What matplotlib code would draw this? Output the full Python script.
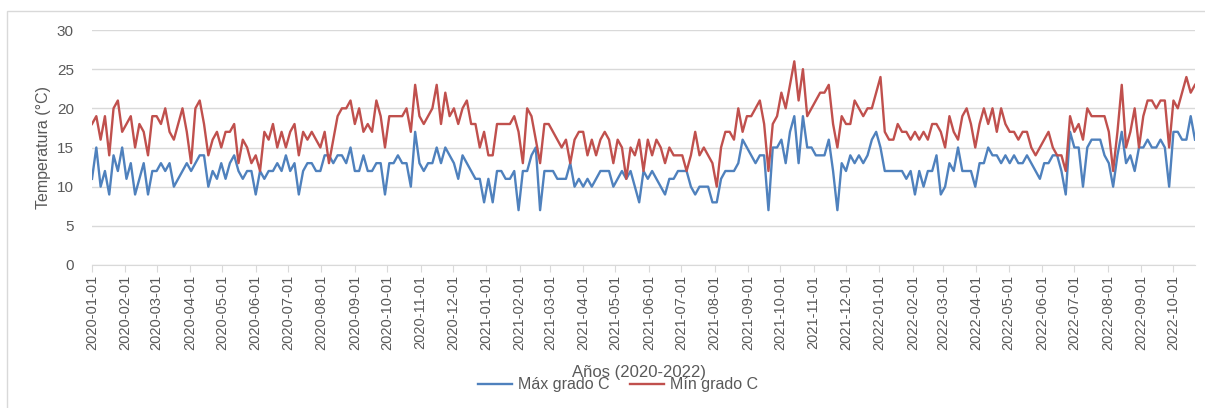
import numpy as np
import pandas as pd
import matplotlib
matplotlib.use("Agg")
import matplotlib.pyplot as plt
import matplotlib.dates as mdates
from matplotlib.patches import Rectangle

# values every 4 days starting 2020-01-01
start_date = "2020-01-01"
step = "4D"

max_temp = [  # blue line, "Máx grado C"
    11, 15, 10, 12, 9, 14, 12, 15, 11, 13, 9, 11, 13, 9, 12, 12, 13, 12, 13, 10,
    11, 12, 13, 12, 13, 14, 14, 10, 12, 11, 13, 11, 13, 14, 12, 11, 12, 12, 9, 12,
    11, 12, 12, 13, 12, 14, 12, 13, 9,
    12, 13, 13, 12, 12, 14, 14, 13, 14, 14, 13, 15, 12, 12, 14, 12,
    12, 13, 13, 9, 13, 13, 14, 13, 13, 10, 17, 13, 12, 13, 13, 15, 13, 15, 14, 13,
    11, 14, 13, 12, 11, 11, 8, 11, 8, 12, 12, 11, 11,
    12, 7, 12, 12, 14, 15, 7, 12, 12, 12, 11, 11, 11, 13, 10, 11, 10, 11, 10, 11,
    12, 12, 12, 10, 11, 12, 11, 12, 10, 8, 12, 11,
    12, 11, 10, 9, 11, 11, 12, 12, 12, 10, 9, 10, 10, 10, 8, 8, 11, 12, 12, 12,
    13, 16, 15, 14, 13, 14, 14, 7, 15, 15, 16, 13,
    17, 19, 13, 19, 15, 15, 14, 14, 14, 16, 12, 7, 13, 12, 14, 13, 14, 13, 14, 16,
    17, 15, 12, 12, 12, 12, 12, 11, 12, 9, 12, 10, 12,
    12, 14, 9, 10, 13, 12, 15, 12, 12, 12, 10, 13, 13, 15, 14, 14, 13, 14, 13, 14,
    13, 13, 14, 13, 12, 11, 13, 13, 14, 14, 12, 9, 17,
    15, 15, 10, 15, 16, 16, 16, 14, 13, 10, 14, 17, 13, 14, 12, 15, 15, 16, 15, 15,
    16, 15, 10, 17, 17, 16, 16, 19, 16,
]

min_temp = [  # red line, "Mín grado C"
    18, 19, 16, 19, 14, 20, 21, 17, 18, 19, 15, 18, 17, 14, 19, 19, 18, 20, 17, 16,
    18, 20, 17, 13, 20, 21, 18, 14, 16, 17, 15, 17, 17, 18, 13, 16, 15, 13, 14, 12,
    17, 16, 18, 15, 17, 15, 17, 18, 14,
    17, 16, 17, 16, 15, 17, 13, 16, 19, 20, 20, 21, 18, 20, 17, 18,
    17, 21, 19, 15, 19, 19, 19, 19, 20, 17, 23, 19, 18, 19, 20, 23, 18, 22, 19, 20,
    18, 20, 21, 18, 18, 15, 17, 14, 14, 18, 18, 18, 18,
    19, 17, 13, 20, 19, 16, 13, 18, 18, 17, 16, 15, 16, 13, 16, 17, 17, 14, 16, 14,
    16, 17, 16, 13, 16, 15, 11, 15, 14, 16, 12, 16,
    14, 16, 15, 13, 15, 14, 14, 14, 12, 14, 17, 14, 15, 14, 13, 10, 15, 17, 17, 16,
    20, 17, 19, 19, 20, 21, 18, 12, 18, 19, 22, 20,
    23, 26, 21, 25, 19, 20, 21, 22, 22, 23, 18, 15, 19, 18, 18, 21, 20, 19, 20, 20,
    22, 24, 17, 16, 16, 18, 17, 17, 16, 17, 16, 17, 16,
    18, 18, 17, 15, 19, 17, 16, 19, 20, 18, 15, 18, 20, 18, 20, 17, 20, 18, 17, 17,
    16, 17, 17, 15, 14, 15, 16, 17, 15, 14, 14, 12, 19,
    17, 18, 16, 20, 19, 19, 19, 19, 17, 12, 17, 23, 15, 17, 20, 15, 19, 21, 21, 20,
    21, 21, 15, 21, 20, 22, 24, 22, 23,
]

dates = pd.date_range(start_date, periods=len(max_temp), freq=step)

plt.rcParams["font.family"] = ["Liberation Sans", "DejaVu Sans"]
grey = "#595959"

fig = plt.figure(figsize=(12.05, 4.08), dpi=100)
# light chart-area border
fig.patches.append(Rectangle((7 / 1205, -0.01), 1.0, 1 - 11 / 408 + 0.01,
                             transform=fig.transFigure, fill=False,
                             edgecolor="#d9d9d9", linewidth=1.0))

ax = fig.add_axes([92 / 1205, 1 - 265 / 408, (1195 - 92) / 1205, (265 - 30) / 408])

ax.plot(dates, max_temp, color="#4F81BD", lw=1.7, label="Máx grado C")
ax.plot(dates, min_temp, color="#C0504D", lw=1.7, label="Mín grado C")

ax.set_ylim(0, 30)
ax.set_yticks(np.arange(0, 31, 5))
ax.set_xlim(dates[0], dates[-1])
ax.xaxis.set_major_locator(mdates.MonthLocator())
ax.xaxis.set_major_formatter(mdates.DateFormatter("%Y-%m-%d"))
plt.setp(ax.get_xticklabels(), rotation=90)

ax.grid(axis="y", color="#d9d9d9", lw=1.0)
ax.set_axisbelow(True)
for s in ["top", "right", "left"]:
    ax.spines[s].set_visible(False)
ax.spines["bottom"].set_color("#d9d9d9")
ax.tick_params(axis="y", length=0, pad=13, labelsize=11, labelcolor=grey)
ax.tick_params(axis="x", length=5, color="#d9d9d9", pad=2, labelsize=10.5, labelcolor=grey)

ax.set_ylabel("Temperatura (°C)", fontsize=11.5, color=grey, labelpad=4)
fig.text(0.53, 1 - 372 / 408, "Años (2020-2022)", ha="center", va="center",
         fontsize=12, color=grey)
fig.legend(loc="center", bbox_to_anchor=(0.513, 1 - 385 / 408), ncol=2, frameon=False,
           fontsize=11.5, labelcolor=grey, handlelength=2.1, handletextpad=0.4,
           columnspacing=1.3, borderpad=0)

fig.savefig("out.png", dpi=100)
